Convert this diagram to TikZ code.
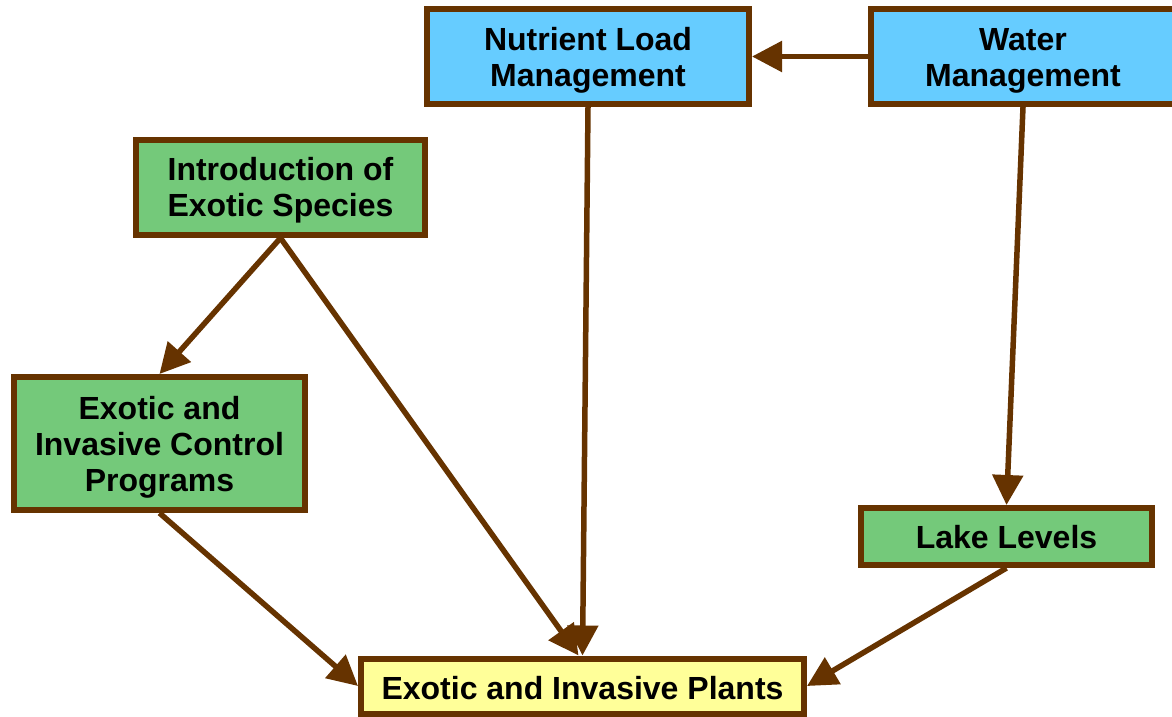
\documentclass[tikz,border=0pt]{standalone}
\usepackage{fontspec}
\setmainfont{Liberation Sans}
\usetikzlibrary{arrows.meta}
\definecolor{brn}{HTML}{663300}
\definecolor{bluebox}{HTML}{66CCFF}
\definecolor{greenbox}{HTML}{74C97A}
\definecolor{yellowbox}{HTML}{FFFF99}
\newcommand\lowtxt[2][4pt]{\raisebox{-#1}[\height][\depth]{\begin{tabular}{@{}c@{}}#2\end{tabular}}}
\begin{document}
\begin{tikzpicture}[x=1pt,y=-1pt,
  box/.style={draw=brn,line width=6pt,inner sep=1pt,
    font=\fontsize{32}{36}\selectfont\bfseries},
  bluebx/.style={box,fill=bluebox},
  greenbx/.style={box,fill=greenbox},
  yellowbx/.style={box,fill=yellowbox},
  conn/.style={draw=brn,line width=5.5pt,-{Triangle[length=30pt,width=30pt]}}]
\useasboundingbox (0,0) rectangle (1172,717);
\node[bluebx,minimum width=322pt,minimum height=95pt] (nutrient) at (588,56.5) {\lowtxt[5pt]{Nutrient Load\\Management}};
\node[bluebx,minimum width=304pt,minimum height=95pt] (water) at (1023,56.5) {\lowtxt[5pt]{Water\\Management}};
\node[greenbx,minimum width=289pt,minimum height=95pt] (intro) at (280.5,187.5) {\lowtxt{Introduction of\\Exotic Species}};
\node[greenbx,minimum width=291pt,minimum height=133pt] (control) at (159.5,443.5) {\lowtxt[5pt]{Exotic and\\Invasive Control\\Programs}};
\node[greenbx,minimum width=291pt,minimum height=57pt] (lake) at (1006.5,536.5) {\lowtxt[5pt]{Lake Levels}};
\node[yellowbx,minimum width=443pt,minimum height=55pt] (plants) at (582.5,686) {\lowtxt[6pt]{Exotic and Invasive Plants}};
\draw[conn] (water.west) -- (nutrient.east);
\draw[conn] (nutrient.south) -- (plants.north);
\draw[conn] (intro.south) -- (control.north);
\draw[conn] (intro.south) -- ([xshift=-4pt]plants.north);
\draw[conn] (control.south) -- (plants.west);
\draw[conn] (water.south) -- (lake.north);
\draw[conn] (lake.south) -- (plants.east);
\end{tikzpicture}
\end{document}
